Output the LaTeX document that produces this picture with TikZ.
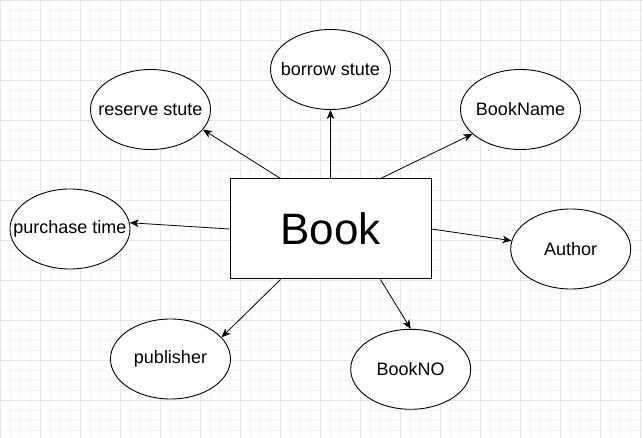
\documentclass[tikz,border=0pt]{standalone}
\usepackage{fontspec}
\setmainfont{Liberation Sans}
\usetikzlibrary{shapes.geometric,arrows.meta}
\definecolor{minorgrid}{HTML}{F4F4F4}
\definecolor{majorgrid}{HTML}{E6E6E6}
\newcommand{\attrtext}[1]{\makebox[0pt][c]{#1}}
\tikzset{
  attr/.style={draw=black, line width=0.9pt, fill=white, ellipse, minimum width=120pt, minimum height=80pt, inner sep=0pt, font=\fontsize{18}{20}\selectfont},
  entity/.style={draw=black, line width=1pt, fill=white, rectangle, minimum width=201pt, minimum height=100pt, inner sep=0pt, font=\fontsize{44}{48}\selectfont},
  link/.style={draw=black, line width=0.8pt, -{Stealth[length=9pt,width=7.5pt,inset=2.5pt]}},
  mingrid/.style={draw=minorgrid, line width=0.8pt},
  majgrid/.style={draw=majorgrid, line width=0.8pt}
}
\begin{document}
\begin{tikzpicture}[x=1pt,y=-1pt]
\useasboundingbox (0,0) rectangle (643,438);
\fill[white] (0,0) rectangle (643,438);
\foreach \i in {0,10,...,640} \draw[mingrid] (\i,0) -- (\i,438);
\foreach \j in {0,10,...,430} \draw[mingrid] (0,\j) -- (643,\j);
\foreach \i in {0,40,...,640} \draw[majgrid] (\i,0) -- (\i,438);
\foreach \j in {0,40,...,430} \draw[majgrid] (0,\j) -- (643,\j);

\node[entity] (book) at (330.5,229) {Book};
\node[attr] (reserve) at (150.5,109.5) {\attrtext{reserve stute}};
\node[attr] (borrow) at (330.5,69.5) {\attrtext{borrow stute}};
\node[attr] (bookname) at (520.5,109.5) {\attrtext{BookName}};
\node[attr] (purchase) at (70,229) {\attrtext{purchase time}};
\node[attr] (author) at (570.7,249) {\attrtext{Author}};
\node[attr] (publisher) at (170.5,359) {\attrtext{publisher}};
\node[attr] (bookno) at (410.7,369.3) {\attrtext{BookNO}};

\draw[link] ([xshift=-50pt]book.north) -- (reserve.-21);
\draw[link] (book.north) -- (borrow.south);
\draw[link] ([xshift=50pt]book.north) -- (bookname.-153);
\draw[link] (book.west) -- (purchase.6);
\draw[link] (book.east) -- (author.172);
\draw[link] ([xshift=-50pt]book.south) -- (publisher.23);
\draw[link] ([xshift=50pt]book.south) -- (bookno.north);
\end{tikzpicture}
\end{document}
